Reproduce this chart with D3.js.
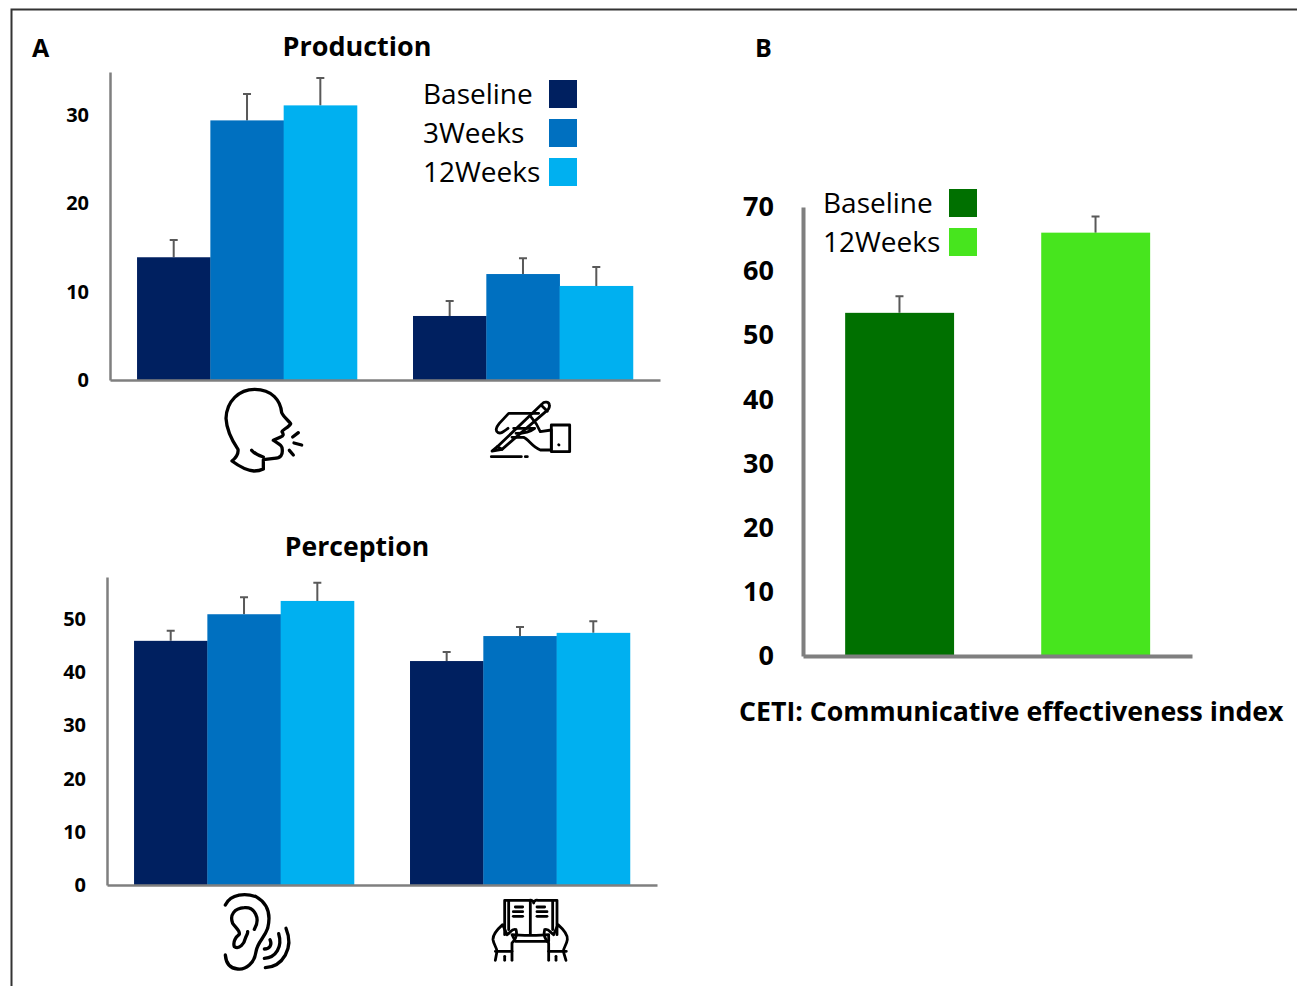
<!DOCTYPE html>
<html>
<head>
<meta charset="utf-8">
<script src="https://cdn.jsdelivr.net/npm/d3@7"></script>
<style>
  html, body { margin: 0; padding: 0; background: #fff; overflow: hidden; }
  text { font-family: "Open Sans", sans-serif; fill: #000; }
  .tick text { font-weight: 700; }
  .icon path { fill: none; stroke: #000; stroke-linecap: round; stroke-linejoin: round; }
</style>
</head>
<body>
<div id="chart"></div>
<script>
// values
const phases = ["Baseline", "3Weeks", "12Weeks"];
const phaseColors = ["#002060", "#0070c0", "#00b0f0"];

const productionGroups = ["speech", "writing"];
const productionValues = [[13.9, 29.4, 31.1], [7.25, 12, 10.65]];
const productionTops = [[15.85, 32.4, 34.2], [8.95, 13.8, 12.8]];
const productionTicks = [0, 10, 20, 30];

const perceptionGroups = ["listening", "reading"];
const perceptionValues = [[45.9, 50.9, 53.4], [42.1, 46.8, 47.4]];
const perceptionTops = [[47.8, 54.1, 56.8], [43.8, 48.5, 49.6]];
const perceptionTicks = [0, 10, 20, 30, 40, 50];

const cetiPhases = ["Baseline", "12Weeks"];
const cetiColors = ["#007000", "#47e51e"];
const cetiValues = [[53.5], [66]];
const cetiTops = [[56.1], [68.5]];
const cetiTicks = [0, 10, 20, 30, 40, 50, 60, 70];

// icon outlines, in their own 0-based drawing units
const icons = {
  speech: [
    "M88,264 L88,236 L120,232 C140,232 148,222 144,200 C142,190 128,186 118,178 L140,168 C148,165 150,160 144,152 C146,146 165,138 170,128 C165,120 150,110 143,95 C140,60 115,25 62,25 C15,25 -22,60 -24,112 C-22,150 -5,180 12,205 C14,218 8,228 -6,240 C10,252 35,268 60,270 C70,270 80,268 88,264",
    "M53,208 C62,218 74,224 88,228",
    "M176,168 L193,155", "M180,186 L203,192", "M166,208 L178,222"
  ],
  writing: [
    "M0,213 L16,200 L150,72 C158,62 172,66 172,76 C174,84 170,88 162,94 L30,208 Z",
    "M16,200 L30,208",
    "M148,76 L166,94",
    "M140,100 L50,100 L22,130 C14,140 8,152 18,158 C28,162 36,154 48,145",
    "M65,145 L128,145 C112,158 90,160 72,160",
    "M60,172 L95,172 C110,178 120,200 145,210 L178,210 L178,150 L145,155 C138,138 130,125 118,112",
    "M178,135 L233,135 L233,215 L178,215 Z",
    "M200,194 L201,195",
    "M-2,230 L88,230", "M100,230 L106,230"
  ],
  listening: [
    "M-2,60 C15,25 60,25 90,35 C125,55 135,90 125,130 C115,160 95,170 90,200 C85,235 60,255 35,252 C10,250 0,235 -2,210",
    "M85,133 C105,100 85,65 55,68 C25,70 10,90 20,115 C30,130 42,135 40,148 C30,155 20,170 25,185 C40,195 55,175 58,160 C62,150 66,145 65,140",
    "M115,192 C130,192 140,180 132,164",
    "M115,220 C150,218 170,185 158,146",
    "M118,248 C170,245 205,190 180,130"
  ],
  reading: [
    "M38,155 L38,52 L112,52 C120,50 125,55 125,60 C125,55 130,50 138,52 L195,52 L195,155",
    "M50,140 L50,52", "M182,140 L182,52",
    "M115,155 L115,55",
    "M70,72 L92,72", "M64,86 L92,86", "M64,100 L92,100",
    "M135,72 L158,72", "M135,86 L165,86", "M135,100 L165,100",
    "M60,155 C85,158 145,158 170,155 L170,175 L70,175 Z",
    "M10,205 L60,205 L60,180 C75,165 75,150 72,140 C60,135 55,150 45,155 L32,125 C15,140 2,155 3,170 C5,185 15,195 15,205 L10,232",
    "M60,205 L60,232", "M38,220 L38,232",
    "M223,205 L170,205 L170,180 C155,165 155,150 158,140 C170,135 175,150 185,155 L198,125 C215,140 228,155 226,170 C224,185 214,195 214,205 L222,232",
    "M170,205 L170,232", "M192,220 L192,232"
  ]
};

const svg = d3.select("#chart").append("svg")
  .attr("width", 1297).attr("height", 986);

// outer frame runs off the right and bottom of the page
svg.append("path")
  .attr("d", "M11.5,990V9.5H1300")
  .attr("fill", "none").attr("stroke", "#333").attr("stroke-width", 2);

function drawBars(o) {
  const g = svg.append("g");
  const x = d3.scaleBand().domain(o.groups).range([o.left, o.right])
    .paddingInner(o.paddingInner).paddingOuter(o.paddingOuter);
  const inner = d3.scaleBand().domain(o.keys).range([0, x.bandwidth()]);
  const y = d3.scaleLinear().domain([0, o.max]).range([o.bottom, o.top]);

  o.groups.forEach((name, i) => {
    const cols = g.append("g").attr("transform", `translate(${x(name)},0)`);
    const rows = o.keys.map((k, j) => ({ k, value: o.values[i][j], top: o.tops[i][j], color: o.color(i, j) }));

    // error bars sit behind the bars
    cols.selectAll(".err").data(rows).enter().append("path")
      .attr("class", "err")
      .attr("d", d => {
        const cx = inner(d.k) + inner.bandwidth() / 2;
        return `M${cx},${y(d.value)}V${y(d.top)}M${cx - 4},${y(d.top)}H${cx + 4}`;
      })
      .attr("fill", "none").attr("stroke", "#595959").attr("stroke-width", 2);

    cols.selectAll(".bar").data(rows).enter().append("rect")
      .attr("class", "bar")
      .attr("x", d => inner(d.k))
      .attr("y", d => y(d.value))
      .attr("width", inner.bandwidth() + 0.3)
      .attr("height", d => y(0) - y(d.value))
      .attr("fill", d => d.color);
  });

  const yAxis = g.append("g")
    .attr("transform", `translate(${o.left},0)`)
    .call(d3.axisLeft(y).tickValues(o.ticks).tickSize(0).tickPadding(o.tickPadding));
  yAxis.selectAll("text").style("font-size", o.tickFont + "px");
  yAxis.select(".domain").attr("stroke", "#7f7f7f").attr("stroke-width", o.axisWidth);

  const xAxis = g.append("g")
    .attr("transform", `translate(0,${o.bottom})`)
    .call(d3.axisBottom(x).tickValues([]).tickSizeOuter(0));
  xAxis.select(".domain").attr("stroke", "#7f7f7f").attr("stroke-width", o.axisWidth);
}

function drawLegend(names, colors, textX, swatchX, firstY, step) {
  const rows = svg.append("g").selectAll("g").data(names).enter().append("g")
    .attr("transform", (d, i) => `translate(0,${firstY + i * step})`);
  rows.append("text").attr("x", textX).attr("y", 0).attr("dy", "0.35em")
    .style("font-size", "28px").text(d => d);
  rows.append("rect").attr("x", swatchX).attr("y", -14).attr("width", 28).attr("height", 28)
    .attr("fill", (d, i) => colors[i]);
}

function drawIcon(name, x, y, k, width) {
  svg.append("g").attr("class", "icon")
    .attr("transform", `translate(${x},${y}) scale(${k})`)
    .selectAll("path").data(icons[name]).enter().append("path")
    .attr("d", d => d)
    .attr("stroke-width", width / k);
}

function label(text, x, y, size, anchor) {
  svg.append("text").attr("x", x).attr("y", y)
    .attr("text-anchor", anchor || "start")
    .style("font-size", size + "px").style("font-weight", 700)
    .text(text);
}

drawBars({
  groups: productionGroups, keys: phases, color: (i, j) => phaseColors[j],
  values: productionValues, tops: productionTops, ticks: productionTicks,
  left: 110, right: 660, top: 72, bottom: 380, max: 34.88,
  paddingInner: 0.203, paddingOuter: 0.098,
  tickFont: 20, tickPadding: 21, axisWidth: 2.5
});

drawBars({
  groups: perceptionGroups, keys: phases, color: (i, j) => phaseColors[j],
  values: perceptionValues, tops: perceptionTops, ticks: perceptionTicks,
  left: 107, right: 657, top: 577, bottom: 885, max: 57.9,
  paddingInner: 0.203, paddingOuter: 0.098,
  tickFont: 20, tickPadding: 21, axisWidth: 2.5
});

drawBars({
  groups: cetiPhases, keys: ["CETI"], color: i => cetiColors[i],
  values: cetiValues, tops: cetiTops, ticks: cetiTicks,
  left: 803, right: 1192, top: 207, bottom: 656, max: 70,
  paddingInner: 0.446, paddingOuter: 0.215,
  tickFont: 27, tickPadding: 29, axisWidth: 4
});

drawLegend(phases, phaseColors, 423, 549, 94, 39);
drawLegend(cetiPhases, cetiColors, 823, 949, 203, 39);

label("A", 32, 57, 25);
label("B", 755, 57, 25);
label("Production", 357, 56, 27, "middle");
label("Perception", 357, 556, 26.6, "middle");
label("CETI: Communicative effectiveness index", 739, 721, 26.7);

drawIcon("speech", 234, 381, 1 / 3, 3.3);
drawIcon("writing", 492, 380, 1 / 3, 2.8);
drawIcon("listening", 226, 885, 1 / 3, 3.3);
drawIcon("reading", 492, 883, 1 / 3, 2.8);
</script>
</body>
</html>
